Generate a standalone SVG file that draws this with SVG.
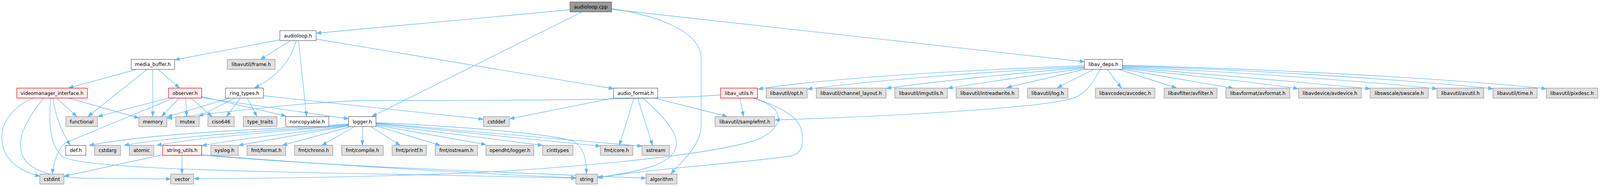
<svg xmlns="http://www.w3.org/2000/svg" width="4379" height="476" viewBox="0 0 4379 476">
<style>
.e{fill:none;stroke:#63b8ff;stroke-width:1.33;marker-end:url(#a)}
.n rect{stroke-width:1.33}
.doc rect{fill:#ffffff;stroke:#666666}
.ext rect{fill:#e0e0e0;stroke:#999999}
.red rect{fill:#fff0f0;stroke:#ff0000}
.root rect{fill:#999999;stroke:#666666}
text{font-family:"DejaVu Sans","Noto Sans",sans-serif;font-size:13.1px;fill:#000000;text-anchor:middle}
</style>
<defs>
<marker id="a" markerWidth="14" markerHeight="10" refX="13" refY="5" orient="auto" markerUnits="userSpaceOnUse">
<path d="M0,0.4 L13,5 L0,9.6 Z" fill="#63b8ff" stroke="#63b8ff" stroke-width="1"/>
</marker>
</defs>
<g id="diagram" transform="scale(0.93537,1)">
<g id="edges">
<path class="e" d="M1560,25 L866,85"/>
<path class="e" d="M1592,31 L1018,298"/>
<path class="e" d="M1674,24 L2968,158"/>
<path class="e" d="M1674,22 C1800,40 1919,80 1919,150 L1919,320 C1919,370 1870,410 1836,445"/>
<path class="e" d="M766,102 L479,153"/>
<path class="e" d="M795,104 L713,152"/>
<path class="e" d="M811,104 C795,150 770,190 697,225"/>
<path class="e" d="M817,104 L839,298"/>
<path class="e" d="M865,100 L1679,227"/>
<path class="e" d="M373,178 L188,225"/>
<path class="e" d="M402,178 L241,298"/>
<path class="e" d="M418,178 L418,298"/>
<path class="e" d="M433,178 L491,225"/>
<path class="e" d="M91,251 C40,270 5,310 5,350 C5,400 40,435 109,451"/>
<path class="e" d="M120,251 C90,285 56,330 56,370 C56,425 110,452 230,456 L467,458"/>
<path class="e" d="M139,251 C133,310 135,370 170,400 C230,440 900,440 1576,456"/>
<path class="e" d="M145,251 C150,290 165,330 192,372"/>
<path class="e" d="M155,251 L210,298"/>
<path class="e" d="M188,251 L380,302"/>
<path class="e" d="M461,251 L268,298"/>
<path class="e" d="M475,251 L180,365 C160,378 148,410 143,445"/>
<path class="e" d="M491,251 L442,298"/>
<path class="e" d="M508,251 L511,298"/>
<path class="e" d="M523,251 L580,298"/>
<path class="e" d="M552,247 L783,297"/>
<path class="e" d="M552,250 L954,304"/>
<path class="e" d="M628,251 L458,299"/>
<path class="e" d="M643,251 L544,298"/>
<path class="e" d="M658,251 L620,298"/>
<path class="e" d="M677,251 L703,298"/>
<path class="e" d="M721,245 L1323,305"/>
<path class="e" d="M1972,243 C1800,256 1300,258 1012,257 C850,260 700,278 458,303"/>
<path class="e" d="M2025,251 L2035,298"/>
<path class="e" d="M2060,251 C2150,275 2150,320 2080,355 C1950,400 1500,435 1220,445 C900,455 700,457 531,457"/>
<path class="e" d="M2063,251 C2140,275 2190,300 2195,340 C2200,380 2190,395 2160,400 C2000,420 1800,430 1636,455"/>
<path class="e" d="M1679,251 L1395,304"/>
<path class="e" d="M1735,251 L1695,372"/>
<path class="e" d="M1745,251 L1786,372"/>
<path class="e" d="M1759,251 C1810,290 1855,340 1851,370 C1848,420 1750,440 1636,454"/>
<path class="e" d="M1790,251 L1990,298"/>
<path class="e" d="M2968,168 C2700,178 2300,195 2075,228"/>
<path class="e" d="M2968,171 C2700,183 2400,205 2210,228"/>
<path class="e" d="M2968,173 C2800,185 2550,210 2426,226"/>
<path class="e" d="M2968,175 C2850,190 2700,210 2594,226"/>
<path class="e" d="M2970,177 L2756,224"/>
<path class="e" d="M2995,177 L2894,224"/>
<path class="e" d="M3012,177 C2995,205 2975,240 2935,252 C2850,275 2500,295 2121,307"/>
<path class="e" d="M3030,177 L3069,225"/>
<path class="e" d="M3060,177 L3220,225"/>
<path class="e" d="M3072,177 L3375,226"/>
<path class="e" d="M3072,175 C3250,192 3450,212 3553,227"/>
<path class="e" d="M3072,173 C3300,188 3550,210 3750,227"/>
<path class="e" d="M3072,171 C3350,182 3700,205 3933,227"/>
<path class="e" d="M3072,169 C3400,178 3800,200 4086,227"/>
<path class="e" d="M3072,167 C3400,175 3900,195 4232,227"/>
<path class="e" d="M954,317 C800,330 450,335 244,372"/>
<path class="e" d="M954,319 C800,332 500,345 340,372"/>
<path class="e" d="M954,320 C800,335 550,350 429,372"/>
<path class="e" d="M954,321 C820,340 650,355 553,373"/>
<path class="e" d="M954,322 L653,372"/>
<path class="e" d="M960,324 L773,372"/>
<path class="e" d="M970,324 L881,372"/>
<path class="e" d="M992,324 L992,372"/>
<path class="e" d="M1015,324 L1095,372"/>
<path class="e" d="M1029,322 L1205,372"/>
<path class="e" d="M1029,320 L1330,370"/>
<path class="e" d="M1029,318 L1485,372"/>
<path class="e" d="M1029,316 L1643,374"/>
<path class="e" d="M1029,315 L1757,374"/>
<path class="e" d="M1029,314 C1300,325 1520,345 1570,362 C1600,380 1605,410 1605,445"/>
<path class="e" d="M445,396 L176,451"/>
<path class="e" d="M498,398 L498,445"/>
<path class="e" d="M552,396 C800,415 1200,440 1576,455"/>
<path class="e" d="M552,397 C900,425 1300,438 1768,456"/>
</g>
<g id="audioloop_cpp" class="n root"><rect x="1560" y="5" width="114" height="25.5"/><text x="1617" y="22.3">audioloop.cpp</text></g>
<g id="audioloop_h" class="n doc"><rect x="766" y="78.5" width="99" height="25.5"/><text x="815.5" y="95.8">audioloop.h</text></g>
<g id="media_buffer_h" class="n doc"><rect x="359" y="152" width="119" height="25.5"/><text x="418.5" y="169.3">media_buffer.h</text></g>
<g id="libavutil_frame_h" class="n ext"><rect x="622" y="152" width="131" height="25.5"/><text x="687.5" y="169.3">libavutil/frame.h</text></g>
<g id="libav_deps_h" class="n doc"><rect x="2968" y="152" width="104" height="25.5"/><text x="3020" y="169.3">libav_deps.h</text></g>
<g id="videomanager_interface_h" class="n red"><rect x="46" y="225.5" width="193" height="25.5"/><text x="142.5" y="242.8">videomanager_interface.h</text></g>
<g id="observer_h" class="n red"><rect x="461" y="225.5" width="91" height="25.5"/><text x="506.5" y="242.8">observer.h</text></g>
<g id="ring_types_h" class="n doc"><rect x="617" y="225.5" width="104" height="25.5"/><text x="669" y="242.8">ring_types.h</text></g>
<g id="audio_format_h" class="n doc"><rect x="1679" y="225.5" width="121" height="25.5"/><text x="1739.5" y="242.8">audio_format.h</text></g>
<g id="libav_utils_h" class="n red"><rect x="1972" y="225.5" width="101" height="25.5"/><text x="2022.5" y="242.8">libav_utils.h</text></g>
<g id="libavutil_opt_h" class="n ext"><rect x="2097" y="225.5" width="112" height="25.5"/><text x="2153" y="242.8">libavutil/opt.h</text></g>
<g id="libavutil_channel_layout_h" class="n ext"><rect x="2234" y="225.5" width="191" height="25.5"/><text x="2329.5" y="242.8">libavutil/channel_layout.h</text></g>
<g id="libavutil_imgutils_h" class="n ext"><rect x="2449" y="225.5" width="144" height="25.5"/><text x="2521" y="242.8">libavutil/imgutils.h</text></g>
<g id="libavutil_intreadwrite_h" class="n ext"><rect x="2617" y="225.5" width="171" height="25.5"/><text x="2702.5" y="242.8">libavutil/intreadwrite.h</text></g>
<g id="libavutil_log_h" class="n ext"><rect x="2812" y="225.5" width="111" height="25.5"/><text x="2867.5" y="242.8">libavutil/log.h</text></g>
<g id="libavcodec_avcodec_h" class="n ext"><rect x="2998" y="225.5" width="163" height="25.5"/><text x="3079.5" y="242.8">libavcodec/avcodec.h</text></g>
<g id="libavfilter_avfilter_h" class="n ext"><rect x="3186" y="225.5" width="145" height="25.5"/><text x="3258.5" y="242.8">libavfilter/avfilter.h</text></g>
<g id="libavformat_avformat_h" class="n ext"><rect x="3355" y="225.5" width="175" height="25.5"/><text x="3442.5" y="242.8">libavformat/avformat.h</text></g>
<g id="libavdevice_avdevice_h" class="n ext"><rect x="3554" y="225.5" width="172" height="25.5"/><text x="3640" y="242.8">libavdevice/avdevice.h</text></g>
<g id="libswscale_swscale_h" class="n ext"><rect x="3750" y="225.5" width="159" height="25.5"/><text x="3829.5" y="242.8">libswscale/swscale.h</text></g>
<g id="libavutil_avutil_h" class="n ext"><rect x="3933" y="225.5" width="128" height="25.5"/><text x="3997" y="242.8">libavutil/avutil.h</text></g>
<g id="libavutil_time_h" class="n ext"><rect x="4086" y="225.5" width="121" height="25.5"/><text x="4146.5" y="242.8">libavutil/time.h</text></g>
<g id="libavutil_pixdesc_h" class="n ext"><rect x="4232" y="225.5" width="141" height="25.5"/><text x="4302.5" y="242.8">libavutil/pixdesc.h</text></g>
<g id="functional" class="n ext"><rect x="180" y="298.5" width="87" height="25.5"/><text x="223.5" y="315.8">functional</text></g>
<g id="memory" class="n ext"><rect x="380" y="298.5" width="77" height="25.5"/><text x="418.5" y="315.8">memory</text></g>
<g id="mutex" class="n ext"><rect x="481" y="298.5" width="64" height="25.5"/><text x="513" y="315.8">mutex</text></g>
<g id="ciso646" class="n ext"><rect x="569" y="298.5" width="72" height="25.5"/><text x="605" y="315.8">ciso646</text></g>
<g id="type_traits" class="n ext"><rect x="666" y="298.5" width="92" height="25.5"/><text x="712" y="315.8">type_traits</text></g>
<g id="noncopyable_h" class="n doc"><rect x="782" y="298.5" width="118" height="25.5"/><text x="841" y="315.8">noncopyable.h</text></g>
<g id="logger_h" class="n doc"><rect x="954" y="298.5" width="75" height="25.5"/><text x="991.5" y="315.8">logger.h</text></g>
<g id="cstddef" class="n ext"><rect x="1323" y="298.5" width="71" height="25.5"/><text x="1358.5" y="315.8">cstddef</text></g>
<g id="libavutil_samplefmt_h" class="n ext"><rect x="1957" y="298.5" width="163" height="25.5"/><text x="2038.5" y="315.8">libavutil/samplefmt.h</text></g>
<g id="def_h" class="n doc"><rect x="180" y="372" width="55" height="25.5"/><text x="207.5" y="389.3">def.h</text></g>
<g id="cstdarg" class="n ext"><rect x="259" y="372" width="71" height="25.5"/><text x="294.5" y="389.3">cstdarg</text></g>
<g id="atomic" class="n ext"><rect x="354" y="372" width="67" height="25.5"/><text x="387.5" y="389.3">atomic</text></g>
<g id="string_utils_h" class="n red"><rect x="445" y="372" width="107" height="25.5"/><text x="498.5" y="389.3">string_utils.h</text></g>
<g id="syslog_h" class="n ext"><rect x="577" y="372" width="75" height="25.5"/><text x="614.5" y="389.3">syslog.h</text></g>
<g id="fmt_format_h" class="n ext"><rect x="676" y="372" width="106" height="25.5"/><text x="729" y="389.3">fmt/format.h</text></g>
<g id="fmt_chrono_h" class="n ext"><rect x="806" y="372" width="105" height="25.5"/><text x="858.5" y="389.3">fmt/chrono.h</text></g>
<g id="fmt_compile_h" class="n ext"><rect x="935" y="372" width="114" height="25.5"/><text x="992" y="389.3">fmt/compile.h</text></g>
<g id="fmt_printf_h" class="n ext"><rect x="1073" y="372" width="94" height="25.5"/><text x="1120" y="389.3">fmt/printf.h</text></g>
<g id="fmt_ostream_h" class="n ext"><rect x="1191" y="372" width="116" height="25.5"/><text x="1249" y="389.3">fmt/ostream.h</text></g>
<g id="opendht_logger_h" class="n ext"><rect x="1330" y="372" width="131" height="25.5"/><text x="1395.5" y="389.3">opendht/logger.h</text></g>
<g id="cinttypes" class="n ext"><rect x="1485" y="372" width="83" height="25.5"/><text x="1526.5" y="389.3">cinttypes</text></g>
<g id="fmt_core_h" class="n ext"><rect x="1643" y="372" width="89" height="25.5"/><text x="1687.5" y="389.3">fmt/core.h</text></g>
<g id="sstream" class="n ext"><rect x="1757" y="372" width="75" height="25.5"/><text x="1794.5" y="389.3">sstream</text></g>
<g id="cstdint" class="n ext"><rect x="109" y="445.5" width="66" height="25.5"/><text x="142" y="462.8">cstdint</text></g>
<g id="vector" class="n ext"><rect x="467" y="445.5" width="63" height="25.5"/><text x="498.5" y="462.8">vector</text></g>
<g id="string" class="n ext"><rect x="1576" y="445.5" width="59" height="25.5"/><text x="1605.5" y="462.8">string</text></g>
<g id="algorithm" class="n ext"><rect x="1768" y="445.5" width="85" height="25.5"/><text x="1810.5" y="462.8">algorithm</text></g>
</g>
</svg>
